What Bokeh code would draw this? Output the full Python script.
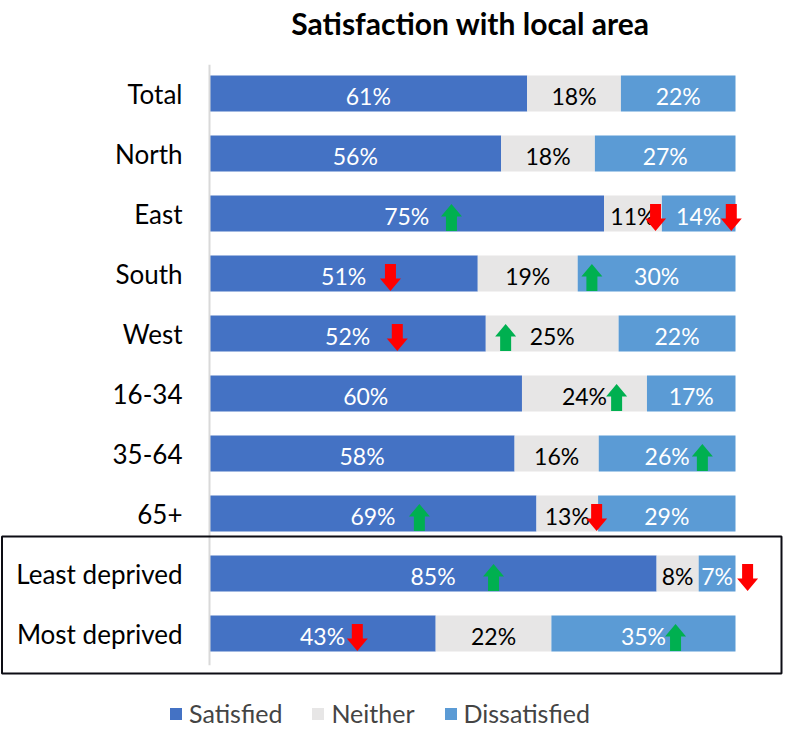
import numpy as np
from bokeh.plotting import figure
from bokeh.models import ColumnDataSource, Range1d, Legend, LegendItem
from bokeh.core.properties import value
from bokeh.embed import file_html
from bokeh.resources import INLINE

# ---------------- data ----------------
categories = ["Total", "North", "East", "South", "West", "16-34", "35-64", "65+",
              "Least deprived", "Most deprived"]
satisfied = [61, 56, 75, 51, 52, 60, 58, 69, 85, 43]
neither = [18, 18, 11, 19, 25, 24, 16, 13, 8, 22]
dissatisfied = [22, 27, 14, 30, 22, 17, 26, 29, 7, 35]
series_names = ["Satisfied", "Neither", "Dissatisfied"]

# significance arrows (category, position along the 100% bar, direction)
arrow_category = ["East", "East", "East", "South", "South", "West", "West", "16-34",
                  "35-64", "65+", "65+", "Least deprived", "Least deprived",
                  "Most deprived", "Most deprived"]
arrow_position = [46.0, 84.8, 99.2, 34.4, 72.7, 35.7, 56.3, 77.4, 93.7, 39.9, 73.6,
                  54.0, 102.3, 28.1, 88.6]
arrow_direction = ["up", "down", "down", "down", "up", "down", "up", "up", "up", "up",
                   "down", "up", "down", "down", "up"]

title_text = "Satisfaction with local area"

# ---------------- styling / layout ----------------
FONT = "Lato"
C_SAT, C_NEI, C_DIS = "#4472C4", "#E7E6E6", "#5B9BD5"
C_UP, C_DOWN = "#00B050", "#FF0000"

W, H = 783, 729
PXX = 5.26   # pixels per percent
PXY = 60.0   # pixels per category row
x0 = -209 / PXX
y_top = 9 + 93 / PXY
x_range = Range1d(x0, x0 + W / PXX)
y_range = Range1d(y_top - H / PXY, y_top)

p = figure(width=W, height=H, x_range=x_range, y_range=y_range,
           output_backend="svg", toolbar_location=None,
           x_axis_location=None, y_axis_location=None, min_border=0)
p.outline_line_color = None
p.grid.visible = False

n = len(categories)
yv = [n - 1 - i for i in range(n)]
sat = np.array(satisfied, float)
nei = np.array(neither, float)
dis = np.array(dissatisfied, float)
tot = sat + nei + dis
sat_n, nei_n, dis_n = sat / tot * 100, nei / tot * 100, dis / tot * 100

src = ColumnDataSource(dict(y=yv, s=sat_n, n=nei_n, d=dis_n))
rs = p.hbar_stack(["s", "n", "d"], y="y", height=0.6, color=[C_SAT, C_NEI, C_DIS],
                  line_color=None, source=src)

# value labels
lx, ly, lt, lc = [], [], [], []
for i in range(n):
    starts = [0, sat_n[i], sat_n[i] + nei_n[i]]
    widths = [sat_n[i], nei_n[i], dis_n[i]]
    vals = [satisfied[i], neither[i], dissatisfied[i]]
    cols = ["white", "black", "white"]
    for s0, w0, v0, c0 in zip(starts, widths, vals, cols):
        lx.append(s0 + w0 / 2)
        ly.append(yv[i] - 2 / PXY)
        lt.append(f"{v0}%")
        lc.append(c0)
p.text(x=lx, y=ly, text=lt, text_color=lc, text_align="center",
       text_baseline="middle", text_font=value(FONT), text_font_size=value("23px"))

# category labels
p.text(x=[-27 / PXX] * n, y=yv, text=categories, text_align="right",
       text_baseline="middle", text_font=value(FONT), text_font_size=value("26px"),
       text_color="black")

# vertical axis line
p.segment(x0=[0], y0=[yv[0] + 0.48], x1=[0], y1=[yv[-1] - 0.53],
          line_color="#D9D9D9", line_width=2)

# arrows
def arrow_shape(cx, cy, up):
    hw, sw, hh, th = 10.5, 5.5, 12.5, 13.5  # px
    pts = [(0, th), (hw, th - hh), (sw, th - hh), (sw, -th), (-sw, -th),
           (-sw, th - hh), (-hw, th - hh)]
    sgn = 1 if up else -1
    xs = [cx + px / PXX for px, py in pts]
    ys = [cy + sgn * py / PXY for px, py in pts]
    return xs, ys

axs, ays, acol = [], [], []
for c, pos, d in zip(arrow_category, arrow_position, arrow_direction):
    cy = yv[categories.index(c)] - 4 / PXY
    xs, ys = arrow_shape(pos, cy, d == "up")
    axs.append(xs)
    ays.append(ys)
    acol.append(C_UP if d == "up" else C_DOWN)
p.patches(xs=axs, ys=ays, fill_color=acol, line_color=None)

# box around deprivation rows
i_least = categories.index("Least deprived")
i_most = categories.index("Most deprived")
p.quad(left=[-207.5 / PXX], right=[572 / PXX],
       top=[yv[i_least] + 37 / PXY], bottom=[yv[i_most] - 40 / PXY],
       fill_color=None, line_color="#0d0d14", line_width=2)

# title
p.text(x=[261 / PXX], y=[9 + 71 / PXY], text=[title_text], text_align="center",
       text_baseline="middle", text_font=value(FONT), text_font_size=value("30px"),
       text_font_style="bold", text_color="black")

# legend
legend = Legend(items=[LegendItem(label=nm, renderers=[r]) for nm, r in zip(series_names, rs)],
                orientation="horizontal", location=(168, 1),
                glyph_width=15, glyph_height=15, label_standoff=6, spacing=28,
                padding=0, margin=0, border_line_color=None, background_fill_alpha=0,
                label_text_font=FONT, label_text_font_size="25px")
p.add_layout(legend)

open("out.html", "w").write(file_html(p, INLINE))
